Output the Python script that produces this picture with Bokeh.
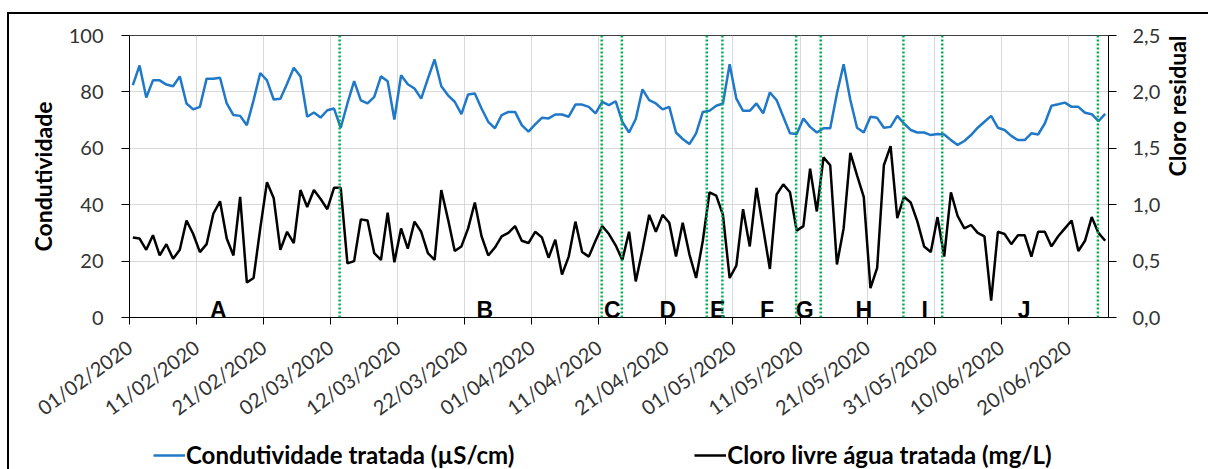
import math
import pandas as pd
from bokeh.plotting import figure
from bokeh.layouts import column
from bokeh.models import (Range1d, LinearAxis, FixedTicker, DatetimeTickFormatter, Span,
                          Legend, LegendItem, ColumnDataSource)
from bokeh.core.properties import value
from bokeh.embed import file_html
from bokeh.resources import INLINE

# ---------------- data ----------------
start_date = "2020-02-01"
end_date = "2020-06-26"

conductivity = [
    82.4, 89.4, 78.0, 84.1, 84.1, 82.6, 82.0, 85.5, 75.9, 73.8,
    74.7, 84.7, 84.7, 85.0, 75.9, 71.8, 71.5, 68.2, 77.0, 86.7,
    84.1, 77.3, 77.6, 82.9, 88.6, 85.5, 71.2, 72.7, 70.9, 73.5,
    74.1, 67.3, 75.9, 83.8, 77.0, 75.9, 78.2, 85.5, 83.8, 70.2,
    85.9, 82.7, 81.2, 77.6, 84.7, 91.5, 82.0, 78.8, 76.5, 72.1,
    79.1, 79.4, 74.1, 69.4, 67.1, 71.8, 72.9, 72.9, 68.2, 65.9,
    68.5, 70.8, 70.6, 72.0, 72.0, 71.2, 75.5, 75.5, 74.7, 72.4,
    76.5, 75.3, 76.7, 69.4, 65.6, 70.4, 80.9, 77.1, 75.9, 73.8,
    74.7, 65.6, 63.3, 61.5, 65.3, 72.9, 73.3, 75.1, 75.9, 89.8,
    77.6, 73.3, 73.3, 75.9, 72.4, 79.8, 77.1, 71.2, 65.3, 65.1,
    70.6, 67.6, 65.6, 67.1, 67.1, 79.4, 89.8, 77.1, 67.3, 65.6,
    71.2, 70.8, 67.3, 67.6, 71.5, 68.8, 66.5, 65.6, 65.6, 64.7,
    65.1, 64.9, 62.9, 61.2, 62.6, 64.7, 67.3, 69.4, 71.5, 67.3,
    66.5, 64.4, 62.9, 62.9, 65.3, 64.9, 68.8, 75.1, 75.6, 76.2,
    74.7, 74.7, 72.6, 72.1, 69.6, 72.2,
]

chlorine = [
    0.71, 0.70, 0.60, 0.73, 0.55, 0.65, 0.52, 0.60, 0.86, 0.74,
    0.58, 0.65, 0.92, 1.03, 0.70, 0.55, 1.07, 0.31, 0.35, 0.79,
    1.20, 1.06, 0.60, 0.76, 0.66, 1.13, 0.98, 1.13, 1.05, 0.96,
    1.15, 1.15, 0.48, 0.50, 0.87, 0.86, 0.57, 0.51, 0.93, 0.49,
    0.79, 0.61, 0.85, 0.76, 0.57, 0.51, 1.13, 0.87, 0.59, 0.63,
    0.79, 1.02, 0.72, 0.55, 0.62, 0.72, 0.75, 0.81, 0.68, 0.66,
    0.76, 0.71, 0.53, 0.69, 0.38, 0.54, 0.85, 0.58, 0.54, 0.68,
    0.81, 0.74, 0.64, 0.51, 0.76, 0.32, 0.60, 0.91, 0.76, 0.91,
    0.84, 0.54, 0.84, 0.56, 0.35, 0.68, 1.11, 1.08, 0.91, 0.35,
    0.46, 0.96, 0.63, 1.15, 0.79, 0.43, 1.09, 1.18, 1.11, 0.77,
    0.81, 1.32, 0.94, 1.42, 1.35, 0.47, 0.79, 1.46, 1.26, 1.07,
    0.26, 0.44, 1.35, 1.52, 0.88, 1.07, 1.02, 0.85, 0.63, 0.58,
    0.89, 0.54, 1.11, 0.90, 0.79, 0.82, 0.75, 0.72, 0.15, 0.76,
    0.74, 0.65, 0.73, 0.73, 0.54, 0.76, 0.76, 0.63, 0.72, 0.79,
    0.86, 0.59, 0.68, 0.89, 0.75, 0.68,
]

x_tick_dates = ["2020-02-01", "2020-02-11", "2020-02-21", "2020-03-02", "2020-03-12",
                "2020-03-22", "2020-04-01", "2020-04-11", "2020-04-21", "2020-05-01",
                "2020-05-11", "2020-05-21", "2020-05-31", "2020-06-10", "2020-06-20"]
left_ticks = [0, 20, 40, 60, 80, 100]
right_ticks = [0.0, 0.5, 1.0, 1.5, 2.0, 2.5]
right_tick_labels = ["0,0", "0,5", "1,0", "1,5", "2,0", "2,5"]

phase_breaks = ["2020-03-03 08:00", "2020-04-11 10:00", "2020-04-14 10:00",
                "2020-04-27 02:00", "2020-04-29 10:00", "2020-05-10 10:00",
                "2020-05-14 02:00", "2020-05-26 10:00", "2020-06-01 05:00",
                "2020-06-24 10:00"]
phase_letters = ["A", "B", "C", "D", "E", "F", "G", "H", "I", "J"]
phase_letter_dates = ["2020-02-14 06:00", "2020-03-25 00:00", "2020-04-13 00:00",
                      "2020-04-21 07:00", "2020-04-28 17:00", "2020-05-06 02:00",
                      "2020-05-11 17:00", "2020-05-20 12:00", "2020-05-29 14:00",
                      "2020-06-13 10:00"]

series_names = ["Condutividade tratada (µS/cm)", "Cloro livre água tratada (mg/L)"]
series_colors = ["#1f78c8", "black"]

assert len(conductivity) == len(chlorine)


def ms(d):
    return pd.Timestamp(d).value / 1e6


dates = pd.date_range(start_date, periods=len(conductivity), freq="D") + pd.Timedelta(hours=12)
source = ColumnDataSource(dict(date=dates, cond=conductivity, cl=chlorine))

FONT = "Lato"
TICK_COLOR = "#333333"
BORDER_TOP_LEFT = ("linear-gradient(#000,#000) 7px 12px / 100% 2px no-repeat, "
                   "linear-gradient(#000,#000) 7px 12px / 2px 100% no-repeat, #ffffff")
BORDER_LEFT = "linear-gradient(#000,#000) 7px 0px / 2px 100% no-repeat, #ffffff"

x_range = Range1d(ms(start_date), ms(end_date))

p = figure(width=1208, height=438, output_backend="svg", toolbar_location=None,
           x_axis_type="datetime", x_range=x_range, y_range=Range1d(0, 100),
           min_border_left=129, min_border_right=96, min_border_top=35, min_border_bottom=121)
p.extra_y_ranges = {"cl": Range1d(0, 2.5)}
p.background_fill_color = "white"
p.border_fill_color = None
p.styles = {"background": BORDER_TOP_LEFT}
p.outline_line_color = "#404040"
p.outline_line_width = 1

# grids
p.xgrid.ticker = FixedTicker(ticks=[ms(d) for d in x_tick_dates])
p.ygrid.ticker = FixedTicker(ticks=left_ticks[1:-1])
for g in (p.xgrid, p.ygrid):
    g.grid_line_color = "#d9d9d9"
    g.grid_line_width = 1

# axes
xa = p.xaxis[0]
xa.ticker = FixedTicker(ticks=[ms(d) for d in x_tick_dates])
fmt = "%d/%m/%Y"
xa.formatter = DatetimeTickFormatter(days=fmt, months=fmt, years=fmt, hours=fmt,
                                     hourmin=fmt, minutes=fmt, minsec=fmt, seconds=fmt,
                                     milliseconds=fmt, microseconds=fmt)
xa.major_label_orientation = math.radians(36)
xa.major_label_standoff = 20

ya = p.yaxis[0]
ya.ticker = FixedTicker(ticks=left_ticks)
ya.major_label_standoff = 18
ya.axis_label = "Condutividade"
ya.axis_label_standoff = 9

ra = LinearAxis(y_range_name="cl", ticker=FixedTicker(ticks=right_ticks))
ra.major_label_overrides = {t: l for t, l in zip(right_ticks, right_tick_labels)}
ra.major_label_standoff = 16
ra.axis_label = "Cloro residual"
ra.axis_label_orientation = math.pi / 2
ra.axis_label_standoff = 14
p.add_layout(ra, "right")

for ax in (xa, ya, ra):
    ax.axis_line_color = "black"
    ax.axis_line_width = 1
    ax.major_tick_line_color = "black"
    ax.major_tick_out = 8
    ax.major_tick_in = 0
    ax.minor_tick_out = 0
    ax.minor_tick_in = 0
    ax.major_label_text_font = FONT
    ax.major_label_text_font_size = "20px"
    ax.major_label_text_color = TICK_COLOR
for ax in (ya, ra):
    ax.axis_label_text_font = FONT
    ax.axis_label_text_font_style = "bold"
    ax.axis_label_text_font_size = "23px"
    ax.axis_label_text_color = "black"
xa.major_tick_out = 7

# phase separators
for d in phase_breaks:
    p.add_layout(Span(location=ms(d), dimension="height", line_color="#00b050",
                      line_width=2.5, line_dash="2 2"))

# series
p.line("date", "cond", source=source, line_color=series_colors[0], line_width=2.5)
p.line("date", "cl", source=source, y_range_name="cl", line_color=series_colors[1], line_width=2.5)

# phase letters
p.text(x=[pd.Timestamp(d) for d in phase_letter_dates], y=[2.8] * len(phase_letters),
       text=phase_letters, text_font=value("Liberation Sans"), text_font_style="bold",
       text_font_size="23px", text_align="center", text_baseline="alphabetic",
       text_color="black")

# legend strip (own small plot below the chart; its series sit outside its view)
lg = figure(width=1208, height=31, output_backend="svg", toolbar_location=None,
            x_axis_type="datetime", x_range=x_range, y_range=Range1d(1000, 1001),
            x_axis_location=None, y_axis_location=None, min_border=0)
lg.grid.visible = False
lg.outline_line_color = None
lg.background_fill_color = None
lg.border_fill_color = None
lg.styles = {"background": BORDER_LEFT}
legend_renderers = [lg.line("date", col, source=source, line_color=c, line_width=2.5)
                    for col, c in zip(["cond", "cl"], series_colors)]
legend = Legend(items=[LegendItem(label=n, renderers=[r]) for n, r in zip(series_names, legend_renderers)],
                orientation="horizontal", location=(24, 0),
                border_line_color=None, background_fill_alpha=0,
                padding=0, margin=0, spacing=180, glyph_width=32, glyph_height=20,
                label_standoff=1, label_text_font=FONT,
                label_text_font_style="bold", label_text_font_size="24px",
                label_text_color="black")
lg.add_layout(legend, "center")

layout = column(p, lg, spacing=0)
open("out.html", "w").write(file_html(layout, INLINE))
